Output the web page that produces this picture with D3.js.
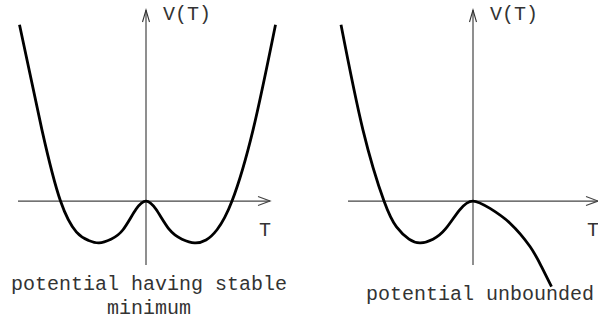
<!DOCTYPE html>
<html>
<head>
<meta charset="utf-8">
<script src="https://cdn.jsdelivr.net/npm/d3@7"></script>
<style>
  body { margin: 0; background: #fff; }
  text { font-family: "Liberation Mono", "Courier New", monospace; font-size: 20px; fill: #333; }
</style>
</head>
<body>
<div id="canvas"></div>
<script>
// left panel: potential with stable minimum (double well)
var leftT = [-2.53, -2.08, -1.71, -1.39, -1.15, -0.94, -0.7, -0.46, -0.2, 0, 0.2, 0.47, 0.72, 0.97, 1.2, 1.42, 1.72, 2.14, 2.59];
var leftV = [4.30, 1.73, 0, -0.76, -0.96, -1.02, -0.93, -0.7, -0.2, 0, -0.2, -0.7, -0.93, -1.02, -0.95, -0.7, 0, 1.73, 4.30];
// right panel: unbounded potential
var rightT = [-2.64, -2.2, -1.78, -1.53, -1.28, -1.05, -0.8, -0.55, -0.27, 0, 0.34, 0.74, 1.14, 1.37, 1.57];
var rightV = [4.30, 1.73, 0, -0.63, -0.93, -1.02, -0.93, -0.68, -0.22, 0, -0.18, -0.54, -1.11, -1.60, -2.09];

var axisLabelY = "V(T)";
var axisLabelX = "T";
var captionLeft = ["potential having stable", "minimum"];
var captionRight = ["potential unbounded"];

var width = 598, height = 322;
var svg = d3.select("#canvas").append("svg")
  .attr("width", width)
  .attr("height", height);

var y = d3.scaleLinear().domain([-1.56, 4.66]).range([265, 10]);
var xLeft = d3.scaleLinear().domain([-2.56, 2.48]).range([18, 270]);
var xRight = d3.scaleLinear().domain([-2.5, 2.5]).range([348, 598]);

function panel(x, ts, vs, caption, capX, capY) {
  var g = svg.append("g");
  var x0 = x(0), y0 = y(0);
  var xr = x.range(), yr = y.range();

  // axes
  g.append("line")
    .attr("x1", xr[0]).attr("x2", xr[1])
    .attr("y1", y0).attr("y2", y0)
    .attr("stroke", "#444").attr("stroke-width", 1.3);
  g.append("line")
    .attr("x1", x0).attr("x2", x0)
    .attr("y1", yr[0]).attr("y2", yr[1])
    .attr("stroke", "#333").attr("stroke-width", 1.1);

  // open arrowheads
  g.append("path")
    .attr("d", "M" + (xr[1] - 12) + "," + (y0 - 4.5) + "L" + xr[1] + "," + y0 + "L" + (xr[1] - 12) + "," + (y0 + 4.5))
    .attr("fill", "none").attr("stroke", "#444").attr("stroke-width", 1.2);
  g.append("path")
    .attr("d", "M" + (x0 - 3.5) + "," + (yr[1] + 12) + "L" + x0 + "," + yr[1] + "L" + (x0 + 3.5) + "," + (yr[1] + 12))
    .attr("fill", "none").attr("stroke", "#333").attr("stroke-width", 1.1);

  // labels
  g.append("text").attr("x", x0 + 17).attr("y", 20).text(axisLabelY);
  g.append("text").attr("x", xr[1] - 5).attr("y", 236)
    .attr("text-anchor", "middle").text(axisLabelX);

  // curve
  var pts = ts.map(function(t, i) { return [t, vs[i]]; });
  var line = d3.line()
    .x(function(d) { return x(d[0]); })
    .y(function(d) { return y(d[1]); })
    .curve(d3.curveNatural);
  g.append("path")
    .datum(pts)
    .attr("d", line)
    .attr("fill", "none")
    .attr("stroke", "#000")
    .attr("stroke-width", 2.8)
    .attr("stroke-linejoin", "round");

  caption.forEach(function(c, i) {
    g.append("text")
      .attr("x", capX).attr("y", capY + i * 24)
      .attr("text-anchor", "middle")
      .text(c);
  });
}

panel(xLeft, leftT, leftV, captionLeft, 149, 290);
panel(xRight, rightT, rightV, captionRight, 480, 300);
</script>
</body>
</html>
